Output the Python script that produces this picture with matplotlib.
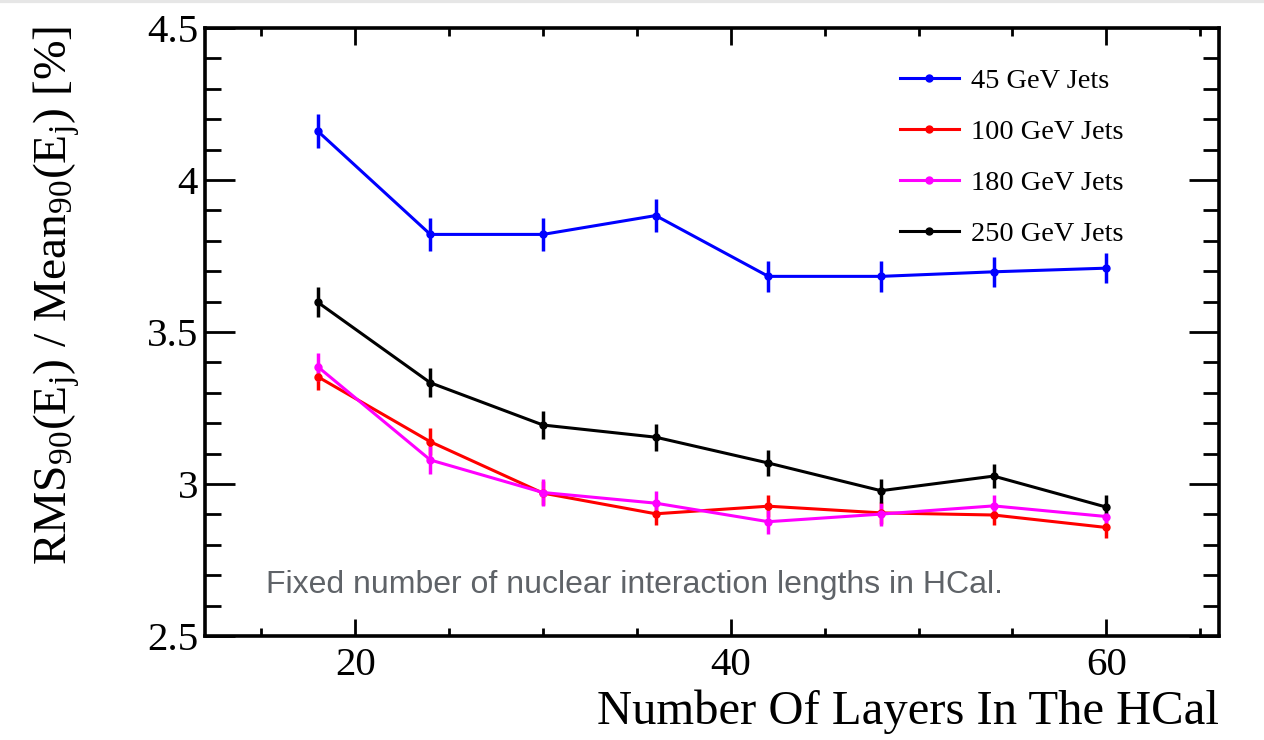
import numpy as np
import matplotlib
matplotlib.use("Agg")
import matplotlib.pyplot as plt
from matplotlib.ticker import MultipleLocator
from matplotlib.lines import Line2D

plt.rcParams['font.family'] = ['Liberation Serif', 'DejaVu Serif']
plt.rcParams['mathtext.fontset'] = 'custom'
plt.rcParams['mathtext.rm'] = 'Liberation Serif'
plt.rcParams['mathtext.it'] = 'Liberation Serif:italic'

layers = [18, 24, 30, 36, 42, 48, 54, 60]
labels = ['45 GeV Jets', '100 GeV Jets', '180 GeV Jets', '250 GeV Jets']
colors = ['#0000ff', '#ff0000', '#ff00ff', '#000000']

res_45 = [4.161, 3.821, 3.821, 3.883, 3.683, 3.683, 3.698, 3.710]
err_45 = [0.055, 0.053, 0.053, 0.053, 0.051, 0.051, 0.050, 0.050]
res_100 = [3.353, 3.139, 2.970, 2.902, 2.927, 2.905, 2.898, 2.857]
err_100 = [0.045, 0.044, 0.040, 0.038, 0.037, 0.035, 0.034, 0.033]
res_180 = [3.386, 3.079, 2.972, 2.937, 2.876, 2.901, 2.928, 2.893]
err_180 = [0.046, 0.046, 0.045, 0.040, 0.039, 0.038, 0.037, 0.036]
res_250 = [3.598, 3.333, 3.194, 3.154, 3.069, 2.978, 3.026, 2.924]
err_250 = [0.050, 0.047, 0.045, 0.044, 0.042, 0.040, 0.040, 0.039]

series = [(res_45, err_45), (res_100, err_100), (res_180, err_180), (res_250, err_250)]

fig = plt.figure(figsize=(12.64, 7.40), dpi=100)
ax = fig.add_axes([205/1264, 1-636/740, (1219-205)/1264, (636-28)/740])

handles = []
for (vals, errs), c, lab in zip(series, colors, labels):
    ax.errorbar(layers, vals, yerr=errs, color=c, lw=2.2, elinewidth=2.5,
                capsize=0, marker='o', ms=5)
    handles.append(Line2D([], [], color=c, lw=2.2, marker='o', ms=5, label=lab))

ax.set_xlim(12, 66)
ax.set_ylim(2.5, 4.5)
ax.xaxis.set_major_locator(MultipleLocator(20))
ax.xaxis.set_minor_locator(MultipleLocator(5))
ax.yaxis.set_minor_locator(MultipleLocator(0.1))
ax.set_yticks([2.5, 3, 3.5, 4, 4.5])
ax.set_yticklabels(['2.5', '3', '3.5', '4', '4.5'])

for s in ax.spines.values():
    s.set_linewidth(2.6)
ax.tick_params(which='both', direction='in', top=True, right=True, width=2.0, labelsize=29.5)
ax.tick_params(axis='x', which='major', length=12, pad=8)
ax.tick_params(axis='x', which='minor', length=6)
ax.tick_params(axis='y', which='major', length=21.5, pad=5)
ax.tick_params(axis='y', which='minor', length=11.5)

ax.set_xlabel('Number Of Layers In The HCal', fontsize=35, loc='right', labelpad=4)
ax.set_ylabel(r'RMS$_{90}$(E$_{\rm j}$) / Mean$_{90}$(E$_{\rm j}$) [%]', fontsize=34.2,
              loc='top')
ax.yaxis.set_label_coords(-0.121, 1.004)

ax.legend(handles=handles, loc='upper left', bbox_to_anchor=(0.674, 0.952), frameon=False,
          fontsize=20.4, handlelength=2.08, handletextpad=0.42, labelspacing=0.88,
          borderaxespad=0)

ax.text(0.06, 0.07, 'Fixed number of nuclear interaction lengths in HCal.',
        transform=ax.transAxes, fontsize=23, color='#5f6368', family='Liberation Sans')

fig.add_artist(Line2D([0, 1], [0.998, 0.998], color='#e6e6e6', lw=3, transform=fig.transFigure))

fig.savefig('out.png', dpi=100)
